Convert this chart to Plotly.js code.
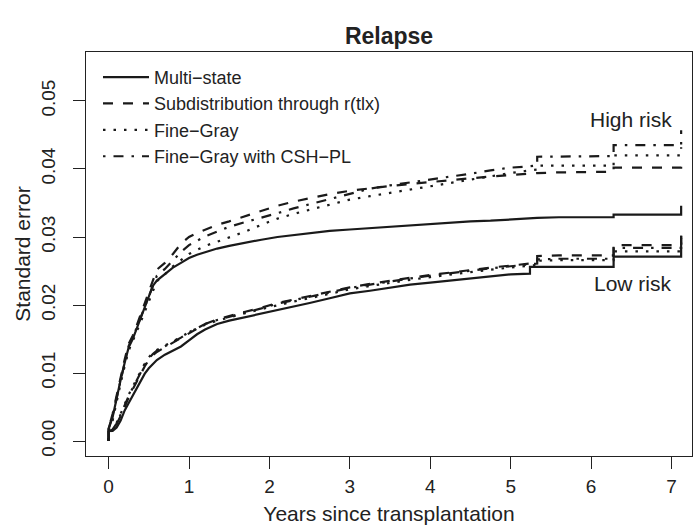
<!DOCTYPE html>
<html><head><meta charset="utf-8">
<script src="https://cdn.plot.ly/plotly-3.0.1.min.js"></script>
<style>html,body{margin:0;padding:0;background:#fff}#chart{width:696px;height:530px}</style>
</head><body><div id="chart"></div>
<script>
// time grid (years since transplantation); repeated times mark jumps
const years = [0, 0, 0.05, 0.1, 0.15, 0.2, 0.25, 0.3, 0.35, 0.4, 0.45, 0.5, 0.55, 0.6,
  0.7, 0.8, 0.9, 1.0, 1.1, 1.2,
  1.35, 1.5, 1.7, 1.9, 2.1, 2.3, 2.5, 2.75,
  3.0, 3.25, 3.5, 3.75, 4.0, 4.25, 4.5, 4.75, 5.0,
  5.24, 5.24, 5.33, 5.33, 5.6, 6.0, 6.28, 6.28, 6.7, 7.12, 7.12];

// High risk
const highMultiState = [0, 0.0018, 0.0035, 0.0065, 0.009, 0.0115, 0.0138, 0.015, 0.0165, 0.018, 0.0195, 0.021, 0.0228, 0.0236,
  0.0245, 0.0255, 0.0262, 0.0269, 0.0274, 0.0278,
  0.0283, 0.0287, 0.0292, 0.0296, 0.0300, 0.0303, 0.0306, 0.0309,
  0.0311, 0.0313, 0.0316, 0.0318, 0.0320, 0.0321, 0.0323, 0.0324, 0.0326,
  0.0327, 0.0327, 0.0328, 0.0328, 0.0329, 0.0329, 0.0329, 0.0333, 0.0333, 0.0333, 0.0346];
const highSubdist = [0, 0.0018, 0.004, 0.0068, 0.0095, 0.012, 0.0143, 0.0155, 0.017, 0.0187, 0.0202, 0.0218, 0.0236, 0.0252,
  0.0262, 0.0275, 0.029, 0.0300, 0.0306, 0.0311,
  0.0318, 0.0323, 0.0331, 0.0339, 0.0346, 0.0352, 0.0357, 0.0363,
  0.0368, 0.0372, 0.0375, 0.0378, 0.0381, 0.0384, 0.0386, 0.0389, 0.0391,
  0.0393, 0.0393, 0.0394, 0.0394, 0.0395, 0.0396, 0.0396, 0.0402, 0.0402, 0.0402, 0.0412];
const highFineGray = [0, 0.0015, 0.003, 0.006, 0.0085, 0.011, 0.0133, 0.0147, 0.016, 0.0175, 0.019, 0.0205, 0.0222, 0.0235,
  0.0245, 0.0257, 0.0266, 0.0275, 0.0281, 0.0287,
  0.0293, 0.0299, 0.0308, 0.0318, 0.0327, 0.0334, 0.034, 0.0348,
  0.0355, 0.036, 0.0365, 0.037, 0.0375, 0.0379, 0.0384, 0.0389, 0.0394,
  0.0398, 0.0398, 0.0399, 0.0405, 0.0405, 0.0405, 0.0405, 0.042, 0.042, 0.042, 0.0432];
const highFineGrayPL = [0, 0.0018, 0.0038, 0.0065, 0.009, 0.0115, 0.014, 0.0152, 0.0167, 0.0182, 0.0198, 0.0213, 0.023, 0.0243,
  0.0253, 0.0265, 0.0278, 0.0288, 0.0295, 0.0301,
  0.0308, 0.0315, 0.0322, 0.0328, 0.0335, 0.0342, 0.0348, 0.0356,
  0.0364, 0.0371, 0.0376, 0.038, 0.0385, 0.0389, 0.0393, 0.0398, 0.0402,
  0.0404, 0.0404, 0.0405, 0.0418, 0.0418, 0.0419, 0.0419, 0.0435, 0.0435, 0.0435, 0.0457];

// Low risk
const lowMultiState = [0, 0.0015, 0.0015, 0.002, 0.003, 0.0045, 0.0056, 0.0067, 0.0078, 0.0089, 0.0099, 0.0107, 0.0113, 0.0119,
  0.0127, 0.0133, 0.0139, 0.0148, 0.0157, 0.0164,
  0.0172, 0.0177, 0.0182, 0.0187, 0.0193, 0.0198, 0.0203, 0.021,
  0.0217, 0.0221, 0.0226, 0.023, 0.0233, 0.0236, 0.0239, 0.0242, 0.0245,
  0.0246, 0.0256, 0.0256, 0.0256, 0.0256, 0.0256, 0.0256, 0.0271, 0.0271, 0.0271, 0.0302];
const lowSubdist = [0, 0.0015, 0.0017, 0.0025, 0.0037, 0.0052, 0.0064, 0.0076, 0.0088, 0.01, 0.011, 0.0119, 0.0126, 0.0131,
  0.0138, 0.0144, 0.0151, 0.0159, 0.0166, 0.0172,
  0.0179, 0.0184, 0.019, 0.0196, 0.0203, 0.0208, 0.0213, 0.022,
  0.0226, 0.0231, 0.0236, 0.024, 0.0244, 0.0248, 0.0251, 0.0255, 0.0258,
  0.0261, 0.0261, 0.0262, 0.0272, 0.0273, 0.0273, 0.0273, 0.0288, 0.0288, 0.0288, 0.0302];
const lowFineGray = [0, 0.0012, 0.0017, 0.0027, 0.004, 0.0055, 0.0068, 0.008, 0.0092, 0.0104, 0.0114, 0.0123, 0.013, 0.0134,
  0.014, 0.0146, 0.0153, 0.016, 0.0166, 0.0171,
  0.0177, 0.0182, 0.0188, 0.0194, 0.02, 0.0205, 0.021, 0.0217,
  0.0223, 0.0228, 0.0233, 0.0237, 0.0241, 0.0245, 0.0248, 0.0252, 0.0255,
  0.0258, 0.0258, 0.0259, 0.0265, 0.0266, 0.0266, 0.0266, 0.0279, 0.0279, 0.0279, 0.0292];
const lowFineGrayPL = [0, 0.0013, 0.0017, 0.0026, 0.0039, 0.0054, 0.0066, 0.0078, 0.009, 0.0102, 0.0112, 0.0121, 0.0128, 0.0133,
  0.0139, 0.0145, 0.0152, 0.016, 0.0166, 0.0172,
  0.0178, 0.0183, 0.0189, 0.0195, 0.0202, 0.0207, 0.0212, 0.0219,
  0.0225, 0.023, 0.0235, 0.0239, 0.0243, 0.0247, 0.025, 0.0254, 0.0257,
  0.026, 0.026, 0.0261, 0.0267, 0.0268, 0.0268, 0.0268, 0.0284, 0.0284, 0.0284, 0.0298];

const methodNames = ['Multi\u2212state', 'Subdistribution through r(tlx)', 'Fine\u2212Gray', 'Fine\u2212Gray with CSH\u2212PL'];
const xTicks = [0, 1, 2, 3, 4, 5, 6, 7];
const yTicks = [0, 0.01, 0.02, 0.03, 0.04, 0.05];
const yTickText = ['0.00', '0.01', '0.02', '0.03', '0.04', '0.05'];
const groupLabels = ['High risk', 'Low risk'];

const INK = '#1a1a1a';
const dashes = ['solid', '10px,10px', '2.5px,8px', '2.5px,8px,10px,8px'];
const highSeries = [highMultiState, highSubdist, highFineGray, highFineGrayPL];
const lowSeries = [lowMultiState, lowSubdist, lowFineGray, lowFineGrayPL];

const traces = [];
highSeries.forEach((ys, i) => traces.push({
  type: 'scatter', mode: 'lines', x: years, y: ys, name: methodNames[i],
  legendgroup: 'g' + i, showlegend: true,
  line: {shape: 'linear', color: INK, width: 2.2, dash: dashes[i]}
}));
lowSeries.forEach((ys, i) => traces.push({
  type: 'scatter', mode: 'lines', x: years, y: ys, name: methodNames[i],
  legendgroup: 'g' + i, showlegend: false,
  line: {shape: 'linear', color: INK, width: 2.2, dash: dashes[i]}
}));

const FONT = 'Liberation Sans, Arial, Helvetica, sans-serif';
const layout = {
  width: 696, height: 530,
  margin: {l: 86, r: 4, t: 52, b: 74, pad: 0},
  paper_bgcolor: '#ffffff', plot_bgcolor: '#ffffff',
  font: {family: FONT, color: '#222', size: 20},
  title: {text: '<b>Relapse</b>', font: {size: 23, color: '#222'}, xref: 'paper', x: 0.5, xanchor: 'center',
          yref: 'container', y: 1 - 36/530, yanchor: 'middle'},
  showlegend: true,
  legend: {x: 0.0198, y: 0.983, xanchor: 'left', yanchor: 'top', bgcolor: 'rgba(0,0,0,0)',
           font: {size: 18, color: '#222'}, itemwidth: 46, tracegroupgap: 0, traceorder: 'normal'},
  xaxis: {range: [-0.281, 7.255], tickvals: xTicks, ticks: 'outside', ticklen: 12, tickwidth: 1, tickcolor: '#222',
          showline: true, mirror: true, linecolor: '#222', linewidth: 1, showgrid: false, zeroline: false,
          tickfont: {size: 19}, ticklabelstandoff: 1,
          title: {text: 'Years since transplantation', font: {size: 21}, standoff: 10}},
  yaxis: {range: [-0.0022, 0.0572], tickvals: yTicks, ticktext: yTickText, tickangle: -90,
          ticks: 'outside', ticklen: 12, tickwidth: 1, tickcolor: '#222',
          showline: true, mirror: true, linecolor: '#222', linewidth: 1, showgrid: false, zeroline: false,
          tickfont: {size: 19}, ticklabelstandoff: 10,
          title: {text: 'Standard error', font: {size: 21}, standoff: 2}},
  annotations: [
    {x: 7.03, y: 0.0473, xref: 'x', yref: 'y', text: groupLabels[0], showarrow: false, xanchor: 'right', yanchor: 'middle', font: {size: 21}},
    {x: 7.03, y: 0.0231, xref: 'x', yref: 'y', text: groupLabels[1], showarrow: false, xanchor: 'right', yanchor: 'middle', font: {size: 21}}
  ]
};
Plotly.newPlot('chart', traces, layout, {staticPlot: true, displayModeBar: false});
</script>
</body></html>
